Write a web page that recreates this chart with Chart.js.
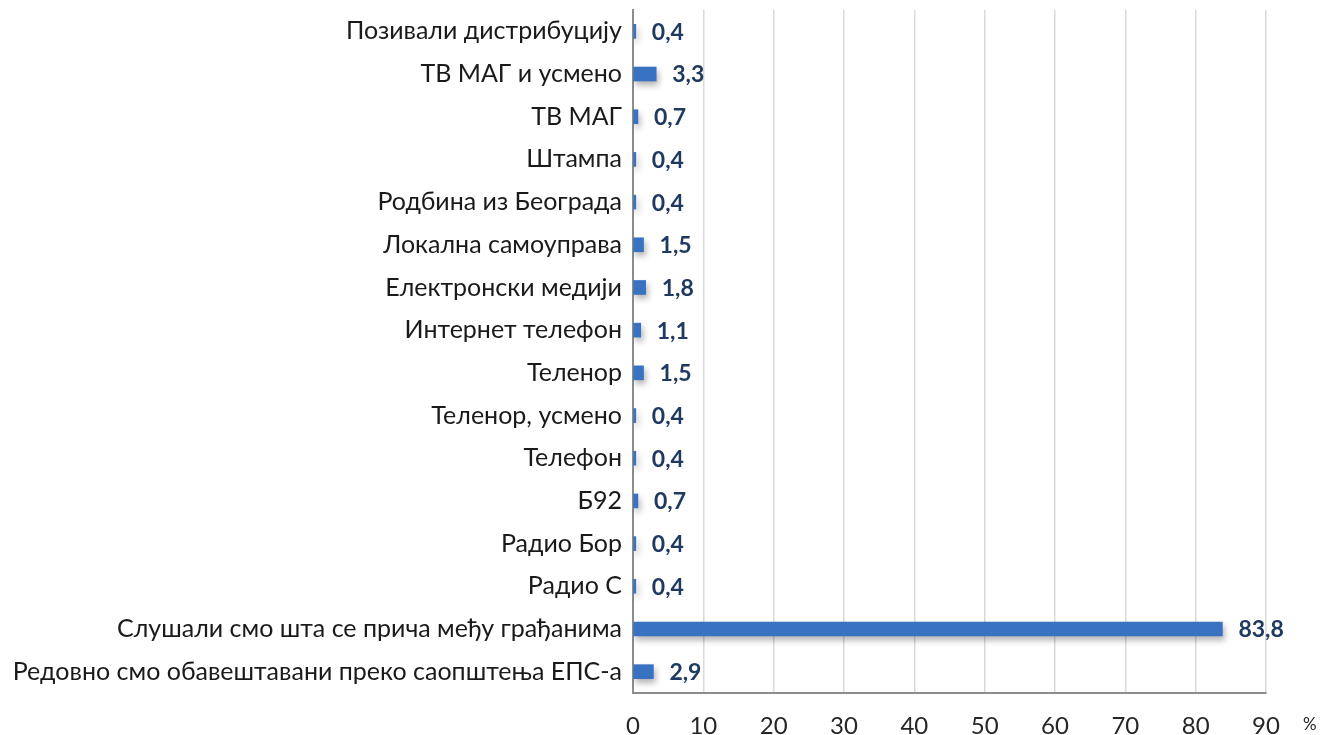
<!DOCTYPE html>
<html>
<head>
<meta charset="utf-8">
<script src="https://cdn.jsdelivr.net/npm/chart.js@4.4.1/dist/chart.umd.min.js"></script>
<style>
  html, body { margin: 0; padding: 0; background: #fff; }
</style>
</head>
<body>
<canvas id="chart" width="1322" height="735"></canvas>
<script>
const categories = [
  "Позивали дистрибуцију",
  "ТВ МАГ и усмено",
  "ТВ МАГ",
  "Штампа",
  "Родбина из Београда",
  "Локална самоуправа",
  "Електронски медији",
  "Интернет телефон",
  "Теленор",
  "Теленор, усмено",
  "Телефон",
  "Б92",
  "Радио Бор",
  "Радио С",
  "Слушали смо шта се прича међу грађанима",
  "Редовно смо обавештавани преко саопштења ЕПС-а"
];

const values = [0.4, 3.3, 0.7, 0.4, 0.4, 1.5, 1.8, 1.1, 1.5, 0.4, 0.4, 0.7, 0.4, 0.4, 83.8, 2.9];

const xMin = 0;
const xMax = 90;
const xStep = 10;
const unitLabel = "%";

const FONT = "Lato, 'Open Sans', sans-serif";

function formatValue(value) {
  return value.toFixed(1).replace(".", ",");
}

const barShadow = {
  id: "barShadow",
  beforeDatasetsDraw(chart) {
    const ctx = chart.ctx;
    ctx.save();
    ctx.shadowColor = "rgba(0, 0, 0, 0.3)";
    ctx.shadowBlur = 6;
    ctx.shadowOffsetX = 2;
    ctx.shadowOffsetY = 4;
  },
  afterDatasetsDraw(chart) {
    chart.ctx.restore();
  }
};

// bold value next to each bar, plus the "%" unit after the last tick
const valueLabels = {
  id: "valueLabels",
  afterDatasetsDraw(chart) {
    const ctx = chart.ctx;
    const meta = chart.getDatasetMeta(0);
    ctx.save();
    ctx.font = `bold 23px ${FONT}`;
    ctx.fillStyle = "#1f3a60";
    ctx.textAlign = "left";
    ctx.textBaseline = "middle";
    meta.data.forEach((bar, i) => {
      ctx.fillText(formatValue(values[i]), bar.x + 16, bar.y + 1);
    });

    const xScale = chart.scales.x;
    ctx.font = `17px ${FONT}`;
    ctx.fillStyle = "#262626";
    ctx.textBaseline = "alphabetic";
    ctx.fillText(unitLabel, xScale.right + 37, 730);
    ctx.restore();
  }
};

new Chart(document.getElementById("chart"), {
  type: "bar",
  data: {
    labels: categories,
    datasets: [{
      data: values,
      backgroundColor: "#3a72c2",
      barThickness: 14,
      borderWidth: 0
    }]
  },
  options: {
    indexAxis: "y",
    responsive: false,
    animation: false,
    layout: {
      padding: { top: 0, right: 56, bottom: 0, left: 0 }
    },
    plugins: {
      legend: { display: false },
      tooltip: { enabled: false }
    },
    scales: {
      x: {
        min: xMin,
        max: xMax,
        ticks: {
          stepSize: xStep,
          color: "#262626",
          font: { family: FONT, size: 24 },
          padding: 19
        },
        grid: {
          color: "#d9d9d9",
          lineWidth: 1.5,
          drawTicks: false
        },
        border: { color: "#8c8c8c", width: 2 },
        afterFit(scale) {
          scale.height = 42;
        }
      },
      y: {
        ticks: {
          color: "#1a1a1a",
          font: { family: FONT, size: 25 },
          padding: 11,
          autoSkip: false
        },
        grid: { display: false, drawTicks: false },
        border: { color: "#8c8c8c", width: 2 },
        afterFit(scale) {
          scale.width = 633;
          scale.paddingTop = 10;
          scale.paddingBottom = 0;
        }
      }
    }
  },
  plugins: [barShadow, valueLabels]
});
</script>
</body>
</html>
